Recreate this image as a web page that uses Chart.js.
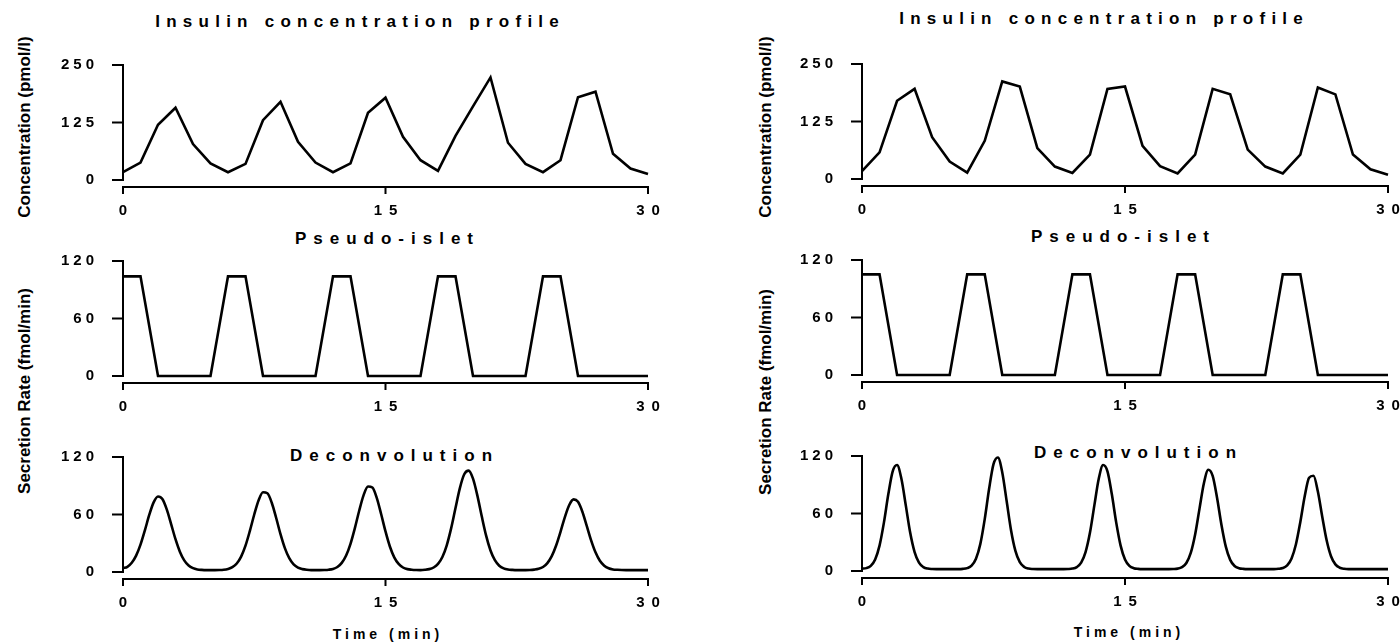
<!DOCTYPE html>
<html>
<head>
<meta charset="utf-8">
<script src="https://cdn.jsdelivr.net/npm/chart.js@4.4.0/dist/chart.umd.min.js"></script>
<style>
html,body{margin:0;padding:0;background:#fff;}
#wrap{position:relative;width:1400px;height:644px;overflow:hidden;background:#fff;font-family:"Liberation Sans",Arial,sans-serif;color:#000;}
.panel{position:absolute;}
.title{position:absolute;font-weight:bold;font-size:17px;letter-spacing:7px;padding-left:7px;white-space:nowrap;transform:translate(-50%,-50%);line-height:1;}
.title.wide{letter-spacing:6.25px;padding-left:6.25px;}
.xtitle{position:absolute;font-weight:bold;font-size:14px;letter-spacing:4px;padding-left:4px;white-space:nowrap;transform:translate(-50%,-50%);line-height:1;}
.ytitle{position:absolute;font-weight:bold;font-size:17px;white-space:nowrap;transform:translate(-50%,-50%) rotate(-90deg);line-height:1;}
</style>
</head>
<body>
<div id="wrap">
  <div class="title wide" style="left:357px;top:21px;">Insulin concentration profile</div>
  <div class="title wide" style="left:1101px;top:18px;">Insulin concentration profile</div>
  <div class="title" style="left:384px;top:238px;">Pseudo-islet</div>
  <div class="title" style="left:1120px;top:236px;">Pseudo-islet</div>
  <div class="title" style="left:391px;top:455px;">Deconvolution</div>
  <div class="title" style="left:1135px;top:452px;">Deconvolution</div>
  <div class="xtitle" style="left:386px;top:634px;">Time (min)</div>
  <div class="xtitle" style="left:1127px;top:632px;">Time (min)</div>
  <div class="ytitle" style="left:24px;top:127px;">Concentration (pmol/l)</div>
  <div class="ytitle" style="left:765px;top:127px;">Concentration (pmol/l)</div>
  <div class="ytitle" style="left:24px;top:391px;">Secretion Rate (fmol/min)</div>
  <div class="ytitle" style="left:765px;top:392px;">Secretion Rate (fmol/min)</div>

  <div class="panel" id="p1"><canvas id="c1"></canvas></div>
  <div class="panel" id="p2"><canvas id="c2"></canvas></div>
  <div class="panel" id="p3"><canvas id="c3"></canvas></div>
  <div class="panel" id="p4"><canvas id="c4"></canvas></div>
  <div class="panel" id="p5"><canvas id="c5"></canvas></div>
  <div class="panel" id="p6"><canvas id="c6"></canvas></div>
</div>
<script>
// ---------- data ----------
const xTickValues = [0, 15, 30];
const concTicks = [0, 125, 250];
const rateTicks = [0, 60, 120];

// concentration sampled every minute
const concTime = [0,1,2,3,4,5,6,7,8,9,10,11,12,13,14,15,16,17,18,19,20,21,22,23,24,25,26,27,28,29,30];
const concLeft = [17,38,120,157,78,36,17,35,130,170,83,38,17,36,146,179,94,43,20,96,160,223,81,35,17,43,180,192,57,25,13];
const concRight = [17,58,170,196,91,38,14,83,212,201,67,27,13,53,196,201,72,28,12,53,196,184,64,27,12,53,199,184,53,21,9];

// pseudo-islet square-pulse secretion
const isletTime = [0,1,2,5,6,7,8,11,12,13,14,17,18,19,20,23,24,25,26,30];
const isletLeft = [104,104,0,0,104,104,0,0,104,104,0,0,104,104,0,0,104,104,0,0];
const isletRight = [105,105,0,0,105,105,0,0,105,105,0,0,105,105,0,0,105,105,0,0];

// deconvolution, sampling grid of 0.25 min
const deconvTime = Array.from({length: 121}, (_, i) => i * 0.25);
const deconvLeft = [
  4,5.4,9.6,17.1,28.6,43.5,59.5,72.6,78.8,76.1,65.3,50,34.2,21.2,12.1,6.7,4,2.7,2.2,2,
  2,2,2.1,2.4,3.2,5,8.9,16.1,27.5,42.9,60,74.9,83.2,82.2,72.3,56.6,39.5,24.9,14.4,7.9,
  4.5,3,2.3,2,2,2,2.1,2.4,3.2,5.2,9.5,17.2,29.4,45.8,64.2,80.2,89.2,88.1,77.4,60.5,
  42.3,26.6,15.3,8.4,4.7,3,2.4,2.1,2,2.3,3,4.7,8.4,15.7,27.9,45.5,66.8,87.6,102,105.8,
  97.4,79.7,58.1,37.9,22.4,12.3,6.6,3.8,2.6,2.2,2,2,2,2.1,2.5,3.3,5.2,9.3,16.5,27.6,
  41.9,57.3,69.9,75.8,73.2,62.9,48.1,33,20.5,11.7,6.6,3.9,2.7,2.3,2.1,2,2,2,2,2,2
];
const deconvRight = [
  2.5,3,5.4,12.1,26.5,50.5,80,104,110.6,96,68.2,39.8,19.7,8.7,4.1,2.5,2.1,2,2,2,
  2,2,2,2.2,3,5.6,12.8,28.3,54.1,85.8,111.5,118.5,102.9,73,42.6,21,9.2,4.2,2.5,2.1,
  2,2,2,2,2,2,2,2.1,2.5,4.1,8.7,19.7,39.8,68.2,96,110.6,104,80,50.5,26.5,
  12.1,5.4,2.9,2.2,2,2,2,2,2,2,2,2.1,2.5,4,8.4,18.8,38.1,65.1,91.6,105.6,
  99.3,76.5,48.3,25.4,11.6,5.2,2.9,2.2,2,2,2,2,2,2,2,2.3,3.1,5.9,13.1,27.9,
  51.2,78,97.3,99.4,82.9,56.6,32,15.4,6.9,3.4,2.3,2,2,2,2,2,2,2,2,2,2
];

// ---------- drawing ----------
const FONT = '"Liberation Sans", Arial, sans-serif';
const X_SPACING = 7, Y_SPACING = 4;

function patchLabels(scale, spacing, shiftX) {
  if (scale._spacingPatched) return;
  const orig = scale.drawLabels;
  scale.drawLabels = function (area) {
    const c = this.ctx;
    c.save();
    if ('letterSpacing' in c) c.letterSpacing = spacing + 'px';
    if (shiftX) c.translate(spacing / 2, 0);
    orig.call(this, area);
    c.restore();
  };
  scale._spacingPatched = true;
}

const axesPlugin = {
  id: 'prismAxes',
  afterLayout(chart) {
    patchLabels(chart.scales.x, X_SPACING, true);
    patchLabels(chart.scales.y, Y_SPACING, false);
  },
  afterDraw(chart) {
    const ctx = chart.ctx;
    const xs = chart.scales.x, ys = chart.scales.y;
    const yTop = ys.getPixelForValue(ys.max);
    const yBot = ys.getPixelForValue(0);
    const left = xs.getPixelForValue(0);
    const right = xs.getPixelForValue(30);
    const gap = 7;
    ctx.save();
    ctx.strokeStyle = '#000';
    ctx.lineWidth = 2;
    ctx.lineCap = 'butt';
    ctx.beginPath();
    ctx.moveTo(left, yTop - 1); ctx.lineTo(left, yBot + 1);
    ys.ticks.forEach(t => {
      const p = ys.getPixelForValue(t.value);
      ctx.moveTo(left - 11, p); ctx.lineTo(left, p);
    });
    const ax = yBot + gap;
    ctx.moveTo(left - 1, ax); ctx.lineTo(right + 1, ax);
    xs.ticks.forEach(t => {
      const p = xs.getPixelForValue(t.value);
      ctx.moveTo(p, ax); ctx.lineTo(p, ax + 7);
    });
    ctx.stroke();
    ctx.restore();
  }
};

function makeChart(id, panelId, geom, xsArr, ysArr, yMax, yTicks, smooth) {
  const panel = document.getElementById(panelId);
  const h = (geom.y0 - geom.yTop) + geom.padTop + geom.xH;
  panel.style.left = geom.left + 'px';
  panel.style.top = (geom.yTop - geom.padTop) + 'px';
  panel.style.width = geom.width + 'px';
  panel.style.height = h + 'px';
  const canvas = document.getElementById(id);
  canvas.width = geom.width; canvas.height = h;
  canvas.style.width = geom.width + 'px'; canvas.style.height = h + 'px';
  const tickFont = {family: FONT, size: 15, weight: 'bold'};
  return new Chart(canvas, {
    type: 'line',
    data: {
      datasets: [{
        data: xsArr.map((x, i) => ({x: x, y: ysArr[i]})),
        borderColor: '#000',
        borderWidth: 2.6,
        pointRadius: 0,
        fill: false,
        tension: smooth ? 0.4 : 0,
        cubicInterpolationMode: smooth ? 'monotone' : 'default',
        borderJoinStyle: 'miter',
        clip: false
      }]
    },
    options: {
      responsive: false,
      animation: false,
      devicePixelRatio: 1,
      events: [],
      layout: {padding: {top: geom.padTop, right: geom.padRight, left: 0, bottom: 0}},
      plugins: {legend: {display: false}, tooltip: {enabled: false}, title: {display: false}},
      scales: {
        x: {
          type: 'linear', min: 0, max: 30,
          afterBuildTicks: s => { s.ticks = xTickValues.map(v => ({value: v})); },
          grid: {display: false, drawTicks: false},
          border: {display: false},
          ticks: {padding: 22, color: '#000', font: tickFont, maxRotation: 0, autoSkip: false},
          afterFit: s => { s.height = geom.xH; }
        },
        y: {
          type: 'linear', min: 0, max: yMax,
          afterBuildTicks: s => { s.ticks = yTicks.map(v => ({value: v})); },
          grid: {display: false, drawTicks: false},
          border: {display: false},
          ticks: {padding: 25, color: '#000', font: tickFont, autoSkip: false},
          afterFit: s => { s.width = geom.yW; }
        }
      }
    },
    plugins: [axesPlugin]
  });
}

const L = {left: 0, width: 700, yW: 123, padRight: 52, padTop: 42, xH: 50};
const R = {left: 700, width: 760, yW: 162, padRight: 72, padTop: 42, xH: 50};

makeChart('c1', 'p1', Object.assign({}, L, {yTop: 65, y0: 180}), concTime, concLeft, 250, concTicks, false);
makeChart('c2', 'p2', Object.assign({}, R, {yTop: 64, y0: 179}), concTime, concRight, 250, concTicks, false);
makeChart('c3', 'p3', Object.assign({}, L, {yTop: 261, y0: 376}), isletTime, isletLeft, 120, rateTicks, false);
makeChart('c4', 'p4', Object.assign({}, R, {yTop: 260, y0: 375}), isletTime, isletRight, 120, rateTicks, false);
makeChart('c5', 'p5', Object.assign({}, L, {yTop: 457, y0: 572}), deconvTime, deconvLeft, 120, rateTicks, true);
makeChart('c6', 'p6', Object.assign({}, R, {yTop: 456, y0: 571}), deconvTime, deconvRight, 120, rateTicks, true);
</script>
</body>
</html>
